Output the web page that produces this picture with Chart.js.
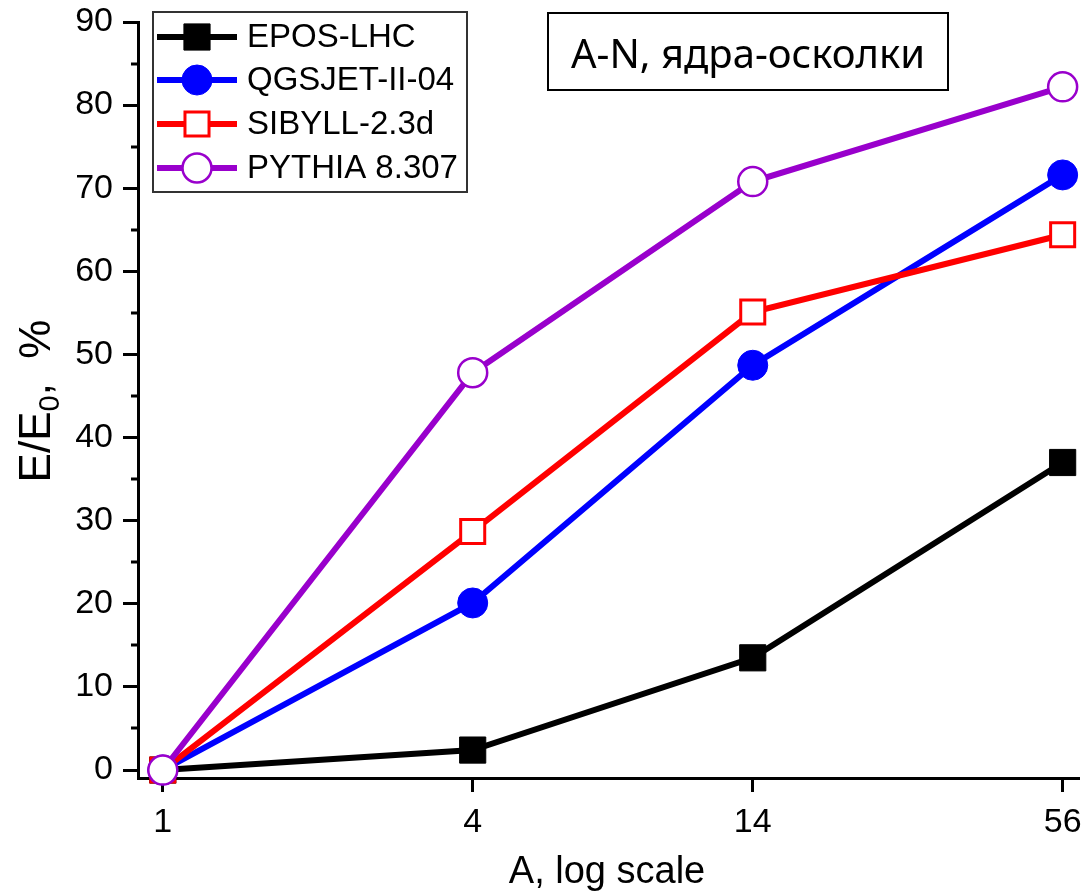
<!DOCTYPE html>
<html>
<head>
<meta charset="utf-8">
<script src="https://cdn.jsdelivr.net/npm/chart.js@4.4.1/dist/chart.umd.min.js"></script>
<style>
html, body { margin: 0; padding: 0; background: #fff; }
#wrap { width: 1089px; height: 894px; }
</style>
</head>
<body>
<div id="wrap"><canvas id="plot" width="1089" height="894"></canvas></div>
<script>
// mass number A of the projectile nucleus
const massNumbers = [1, 4, 14, 56];
// E/E0, % for each model
const eposLhc = [0, 2.4, 13.5, 37.0];
const qgsjet = [0, 20.1, 48.7, 71.6];
const sibyll = [0, 28.7, 55.1, 64.4];
const pythia = [0, 47.8, 70.8, 82.2];
const modelNames = ['EPOS-LHC', 'QGSJET-II-04', 'SIBYLL-2.3d', 'PYTHIA 8.307'];
const xTickValues = [1, 4, 14, 56];
const yTickValues = [0, 10, 20, 30, 40, 50, 60, 70, 80, 90];
const yMinorValues = [5, 15, 25, 35, 45, 55, 65, 75, 85];
const xTitle = 'A, log scale';
const boxLabel = 'A-N, ядра-осколки';

const FONT = "'Liberation Sans', Arial, sans-serif";
// where the plot frame should sit on the canvas
const target = { left: 138, top: 22, right: 1079, bottom: 778 };

function points(vals) {
    return massNumbers.map((a, i) => ({ x: a, y: vals[i] }));
}

const styles = [
    { color: '#000000', fill: '#000000', shape: 'rect', radius: 18.5, bw: 1 },
    { color: '#0000ff', fill: '#0000ff', shape: 'circle', radius: 15, bw: 1 },
    { color: '#ff0000', fill: '#ffffff', shape: 'rect', radius: 17, bw: 3 },
    { color: '#9900cc', fill: '#ffffff', shape: 'circle', radius: 14.5, bw: 2.5 }
];
const seriesValues = [eposLhc, qgsjet, sibyll, pythia];

const datasets = seriesValues.map((vals, i) => ({
    label: modelNames[i],
    data: points(vals),
    borderColor: styles[i].color,
    backgroundColor: styles[i].fill,
    borderWidth: 6,
    pointStyle: styles[i].shape,
    pointRadius: styles[i].radius,
    pointBorderWidth: styles[i].bw,
    pointBorderColor: styles[i].color,
    pointBackgroundColor: styles[i].fill,
    tension: 0,
    clip: false,
    order: 4 - i
}));

const decor = {
    id: 'decor',
    afterDraw(chart) {
        const ctx = chart.ctx;
        const yScale = chart.scales.y;
        const area = chart.chartArea;
        ctx.save();

        // minor ticks on y
        ctx.strokeStyle = '#000';
        ctx.lineWidth = 3;
        yMinorValues.forEach(v => {
            const py = Math.round(yScale.getPixelForValue(v));
            ctx.beginPath();
            ctx.moveTo(area.left - 7, py);
            ctx.lineTo(area.left, py);
            ctx.stroke();
        });

        // y title with subscript
        ctx.fillStyle = '#000';
        ctx.translate(50, 401);
        ctx.rotate(-Math.PI / 2);
        ctx.textBaseline = 'alphabetic';
        ctx.textAlign = 'left';
        const big = '44px ' + FONT;
        const small = '29px ' + FONT;
        ctx.font = big;
        const w1 = ctx.measureText('E/E').width;
        const w3 = ctx.measureText(',  %').width;
        ctx.font = small;
        const w2 = ctx.measureText('0').width;
        let sx = -(w1 + w2 + w3) / 2;
        ctx.font = big;
        ctx.fillText('E/E', sx, 0);
        ctx.font = small;
        ctx.fillText('0', sx + w1, 9);
        ctx.font = big;
        ctx.fillText(',  %', sx + w1 + w2, 0);
        ctx.setTransform(1, 0, 0, 1, 0, 0);

        // x title
        ctx.font = '38px ' + FONT;
        ctx.textAlign = 'center';
        ctx.fillText(xTitle, 607, 883);

        // legend
        ctx.fillStyle = '#fff';
        ctx.fillRect(153, 12, 314, 180);
        ctx.strokeStyle = '#333';
        ctx.lineWidth = 2;
        ctx.strokeRect(153, 12, 314, 180);
        const rowY = [37, 80, 124, 168];
        chart.data.datasets.forEach((ds, i) => {
            const y = rowY[i];
            ctx.strokeStyle = ds.borderColor;
            ctx.lineWidth = 6;
            ctx.beginPath();
            ctx.moveTo(157, y);
            ctx.lineTo(237, y);
            ctx.stroke();
            ctx.fillStyle = ds.pointBackgroundColor;
            ctx.strokeStyle = ds.pointBorderColor;
            ctx.lineWidth = ds.pointBorderWidth;
            Chart.helpers.drawPoint(ctx, {
                pointStyle: ds.pointStyle,
                radius: ds.pointRadius,
                rotation: 0,
                borderWidth: ds.pointBorderWidth
            }, 197, y);
            ctx.fillStyle = '#000';
            ctx.font = '33px ' + FONT;
            ctx.textAlign = 'left';
            ctx.textBaseline = 'middle';
            ctx.fillText(ds.label, 247, y + 1);
        });

        // annotation box
        ctx.fillStyle = '#fff';
        ctx.fillRect(548, 13, 400, 77);
        ctx.strokeStyle = '#000';
        ctx.lineWidth = 2;
        ctx.strokeRect(548, 13, 400, 77);
        ctx.fillStyle = '#000';
        ctx.font = "40px 'Noto Sans', 'Open Sans', sans-serif";
        ctx.textAlign = 'center';
        ctx.textBaseline = 'alphabetic';
        ctx.fillText(boxLabel, 748, 68);

        ctx.restore();
    }
};

const pad = { left: 0, right: 10, top: 22, bottom: 0 };

const plot = new Chart(document.getElementById('plot').getContext('2d'), {
    type: 'line',
    data: { datasets: datasets },
    options: {
        responsive: false,
        animation: false,
        layout: { autoPadding: false, padding: pad },
        plugins: {
            legend: { display: false },
            tooltip: { enabled: false }
        },
        scales: {
            x: {
                type: 'logarithmic',
                min: 0.895,
                max: 60.25,
                afterBuildTicks: scale => {
                    scale.ticks = xTickValues.map(v => ({ value: v }));
                },
                afterFit: scale => {
                    scale.height = 116;
                    scale.paddingLeft = 0;
                    scale.paddingRight = 0;
                },
                border: { display: true, color: '#000', width: 3 },
                grid: {
                    display: true,
                    drawOnChartArea: false,
                    drawTicks: true,
                    tickLength: 14,
                    tickWidth: 3,
                    tickColor: '#000'
                },
                ticks: {
                    color: '#000',
                    padding: 10,
                    maxRotation: 0,
                    autoSkip: false,
                    font: { family: FONT, size: 34 },
                    callback: v => String(v)
                }
            },
            y: {
                type: 'linear',
                min: -0.96,
                max: 90,
                afterBuildTicks: scale => {
                    scale.ticks = yTickValues.map(v => ({ value: v }));
                },
                afterFit: scale => {
                    scale.width = 138;
                    scale.paddingTop = 0;
                    scale.paddingBottom = 0;
                },
                border: { display: true, color: '#000', width: 3 },
                grid: {
                    display: true,
                    drawOnChartArea: false,
                    drawTicks: true,
                    tickLength: 15,
                    tickWidth: 3,
                    tickColor: '#000'
                },
                ticks: {
                    color: '#000',
                    padding: 10,
                    autoSkip: false,
                    font: { family: FONT, size: 34 },
                    callback: v => String(v)
                }
            }
        }
    },
    plugins: [decor]
});

// nudge the padding so the frame lands where the reference has it
for (let k = 0; k < 3; k++) {
    const a = plot.chartArea;
    pad.left += target.left - a.left;
    pad.top += target.top - a.top;
    pad.right += a.right - target.right;
    pad.bottom += a.bottom - target.bottom;
    plot.options.layout.padding = { ...pad };
    plot.update();
}
</script>
</body>
</html>
